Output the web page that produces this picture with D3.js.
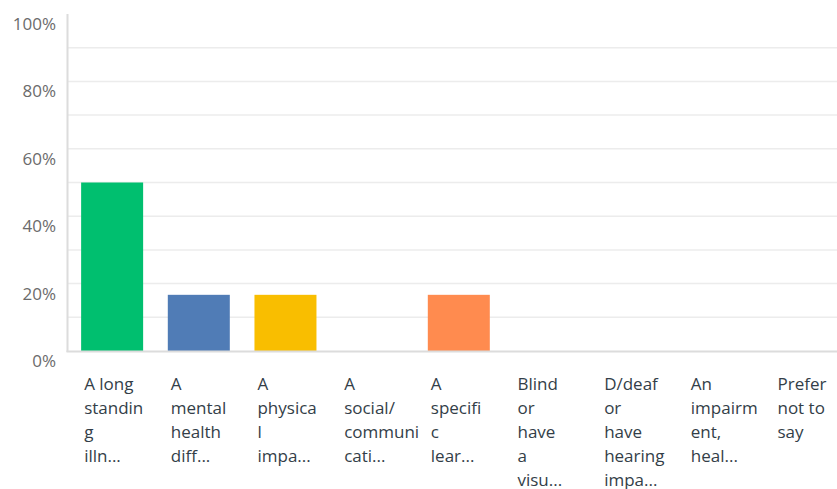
<!DOCTYPE html>
<html><head><meta charset="utf-8">
<script src="https://cdn.jsdelivr.net/npm/d3@7"></script>
<style>body{margin:0;background:#fff;} svg{display:block;}</style>
</head><body>
<script>
const categories = [
  ["A long","standin","g","illn..."],
  ["A","mental","health","diff..."],
  ["A","physica","l","impa..."],
  ["A","social/","communi","cati..."],
  ["A","specifi","c","lear..."],
  ["Blind","or","have","a","visu..."],
  ["D/deaf","or","have","hearing","impa..."],
  ["An","impairm","ent,","heal..."],
  ["Prefer","not to","say"]
];
const values = [50, 16.67, 16.67, 0, 16.67, 0, 0, 0, 0];
const colors = ["#00BF6F","#507CB6","#F9BE00","#6BC8CD","#FF8B4F","#7D5DA3","#D25F90","#A0A0A0","#B5BF3F"];
const yTicks = [0,20,40,60,80,100];
const gridTicks = [10,20,30,40,50,60,70,80,90];

const W = 837, H = 489;
const svg = d3.select("body").append("svg").attr("width", W).attr("height", H);
const y = d3.scaleLinear().domain([0,100]).range([351,14]);
const x = d3.scaleBand().domain(d3.range(categories.length)).range([69, 849]).paddingInner(0.28).paddingOuter(0.14);

svg.append("g").selectAll("line").data(gridTicks).join("line")
  .attr("x1", 68).attr("x2", W).attr("y1", d=>y(d)).attr("y2", d=>y(d))
  .attr("stroke", "#ececec").attr("stroke-width", 1.5);

svg.append("g").selectAll("rect").data(values).join("rect")
  .attr("x", (d,i)=>x(i)).attr("width", 62)
  .attr("y", d=>y(d)).attr("height", d=>y(0)-y(d))
  .attr("fill", (d,i)=>colors[i]);

svg.append("line").attr("x1",67.5).attr("x2",67.5).attr("y1",14).attr("y2",352)
  .attr("stroke","#dcdcdc").attr("stroke-width",2);
svg.append("line").attr("x1",66.5).attr("x2",W).attr("y1",351.5).attr("y2",351.5)
  .attr("stroke","#dcdcdc").attr("stroke-width",2);

svg.append("g").selectAll("text").data(yTicks).join("text")
  .attr("x", 56).attr("y", d=>y(d)+16)
  .attr("text-anchor","end")
  .attr("font-family","'Open Sans', sans-serif").attr("font-size",17)
  .attr("fill","#6b6b6b").text(d=>d+"%");

const lab = svg.append("g").selectAll("text").data(categories).join("text")
  .attr("x", (d,i)=>x(i)+3)
  .attr("y", 390)
  .attr("font-family","'Open Sans', sans-serif").attr("font-size",17)
  .attr("fill","#333e48");
lab.selectAll("tspan").data(d=>d).join("tspan")
  .attr("x", function(){ return d3.select(this.parentNode).attr("x"); })
  .attr("dy", (d,i)=> i===0 ? 0 : 24)
  .text(d=>d);
</script>
</body></html>
